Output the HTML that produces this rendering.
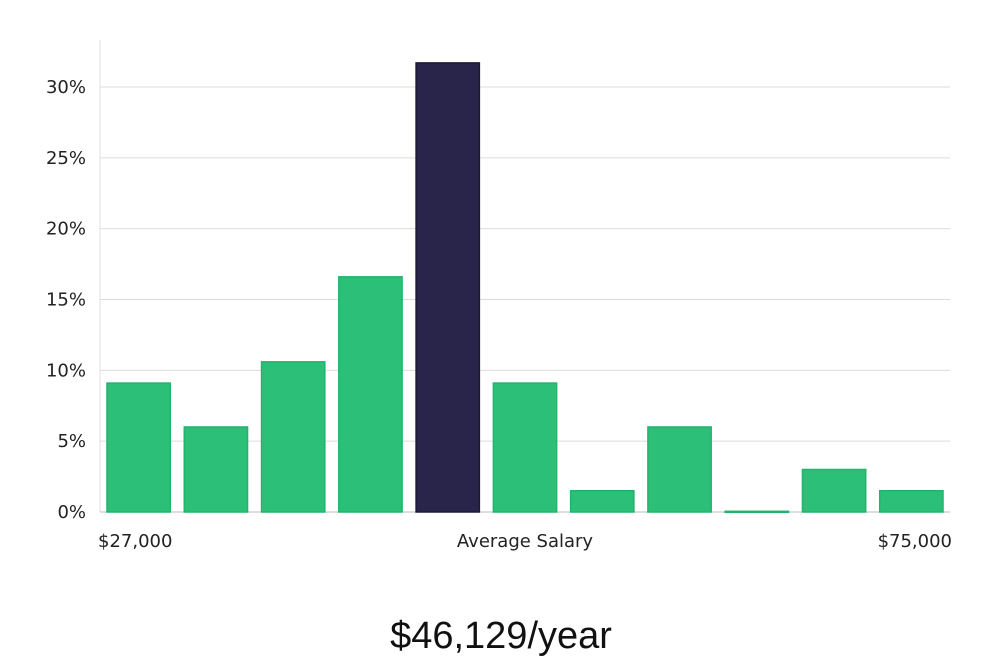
<!DOCTYPE html>
<html><head><meta charset="utf-8">
<style>
body{margin:0;background:#fff;width:1000px;height:660px;overflow:hidden;font-family:"DejaVu Sans","Liberation Sans",sans-serif;}
</style></head>
<body>
<svg id="chart" width="1000" height="660" xmlns="http://www.w3.org/2000/svg"></svg>
<script>
const categories = ["b1","b2","b3","b4","b5","b6","b7","b8","b9","b10","b11"];
const values = [9.1, 6.0, 10.6, 16.6, 31.7, 9.1, 1.5, 6.0, 0.05, 3.0, 1.5];
const highlightIndex = 4;
const yTicks = [0, 5, 10, 15, 20, 25, 30];
const xLabels = ["$27,000", "Average Salary", "$75,000"];
const titleText = "$46,129/year";

const NS = "http://www.w3.org/2000/svg";
const svg = document.getElementById("chart");
const left = 100, right = 950, y0 = 512, yPerPct = (512 - 87) / 30;
const y = v => y0 - v * yPerPct;
const band = (right - left) / categories.length;
const x = i => left + i * band;
function mk(tag, attrs, parent){const e=document.createElementNS(NS,tag);for(const k in attrs)e.setAttribute(k,attrs[k]);(parent||svg).appendChild(e);return e;}

const axis = mk("line",{x1:left,x2:left,y1:40,y2:y0,stroke:"#e0e0e0","stroke-width":1});



yTicks.forEach(t=>{
  const g = mk("line",{x1:left,x2:right,y1:y(t),y2:y(t),stroke:t===0?"#bbb":"#dcdcdc","stroke-width":1});
  
  
  const l = mk("text",{x:86,y:y(t)+6,"text-anchor":"end","font-size":18,fill:"#222"});
  l.textContent = t + "%";
  
  
});

values.forEach((v,i)=>{
  const hi = i===highlightIndex;
  const r = mk("rect",{x:x(i)+7,y:y(v),width:band-14,height:Math.max(y0-y(v),1),fill:hi?"#29254a":"#2bbf77",stroke:hi?"#1c1838":"#22b46c","stroke-width":1.5});
  
  
});

const xl = [[98,"start"],[525,"middle"],[952,"end"]];
xLabels.forEach((s,i)=>{
  const t = mk("text",{x:xl[i][0],y:547,"text-anchor":xl[i][1],"font-size":18,fill:"#222"});
  t.textContent = s;
  
  
});

const title = mk("text",{x:501,y:648,"text-anchor":"middle","font-size":38,fill:"#111","font-family":"Liberation Sans, sans-serif"});
title.textContent = titleText;


</script>
</body></html>
